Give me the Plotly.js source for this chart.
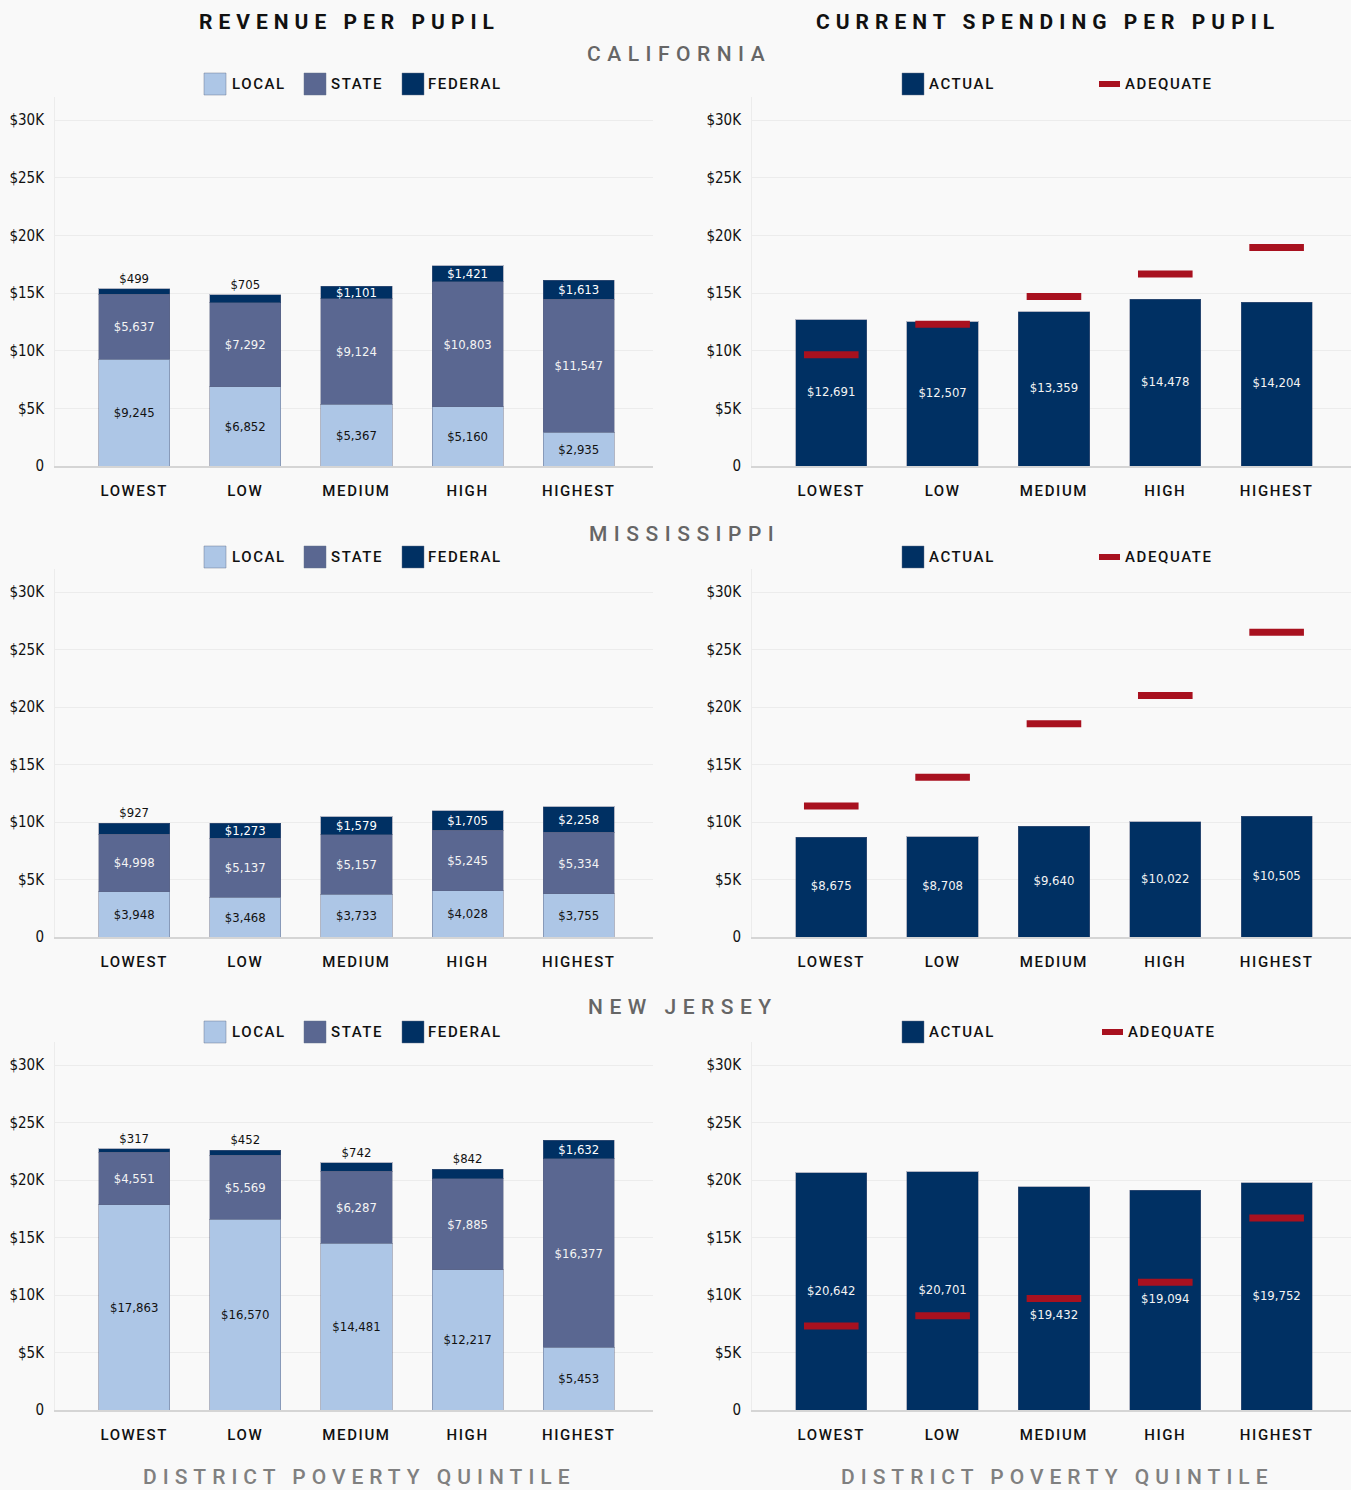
<!DOCTYPE html>
<html><head><meta charset="utf-8">
<script src="https://cdn.plot.ly/plotly-3.0.1.min.js"></script>
<style>
html,body{margin:0;padding:0;background:#f9f9f9;}
#chart{width:1351px;height:1490px;}
.xaxislayer-above text{letter-spacing:1.6px;}
</style></head><body><div id="chart"></div>
<script>
// ---------- DATA ----------
const categories = ['LOWEST', 'LOW', 'MEDIUM', 'HIGH', 'HIGHEST'];
const stateNames = ['CALIFORNIA', 'MISSISSIPPI', 'NEW JERSEY'];

const caLocal   = [9245, 6852, 5367, 5160, 2935];
const caState   = [5637, 7292, 9124, 10803, 11547];
const caFederal = [499, 705, 1101, 1421, 1613];
const caActual  = [12691, 12507, 13359, 14478, 14204];
const caAdequate = [9650, 12300, 14700, 16650, 18950];

const msLocal   = [3948, 3468, 3733, 4028, 3755];
const msState   = [4998, 5137, 5157, 5245, 5334];
const msFederal = [927, 1273, 1579, 1705, 2258];
const msActual  = [8675, 8708, 9640, 10022, 10505];
const msAdequate = [11400, 13900, 18550, 21000, 26500];

const njLocal   = [17863, 16570, 14481, 12217, 5453];
const njState   = [4551, 5569, 6287, 7885, 16377];
const njFederal = [317, 452, 742, 842, 1632];
const njActual  = [20642, 20701, 19432, 19094, 19752];
const njAdequate = [7300, 8200, 9700, 11100, 16700];

const yTickVals = [0, 5000, 10000, 15000, 20000, 25000, 30000];
const yTickText = ['0', '$5K', '$10K', '$15K', '$20K', '$25K', '$30K'];

const revenueSeries = [
  {local: caLocal, state: caState, federal: caFederal},
  {local: msLocal, state: msState, federal: msFederal},
  {local: njLocal, state: njState, federal: njFederal}
];
const spendingSeries = [
  {actual: caActual, adequate: caAdequate},
  {actual: msActual, adequate: msAdequate},
  {actual: njActual, adequate: njAdequate}
];

// ---------- STYLE / LAYOUT ----------
const W = 1351, H = 1490;
const px = x => x / W;
const py = y => 1 - y / H;
const NUMFONT = '"DejaVu Sans Condensed", "Roboto Condensed", Roboto, sans-serif';
const FONT = 'Roboto, "Noto Sans", sans-serif';
const C_LOCAL = '#adc6e6', C_STATE = '#5a6791', C_FED = '#003063', C_ADEQ = '#a8111f';

// pixel geometry of each row: plot top, zero-line, legend center, state name pos
const rowGeom = [
  {top: 97,  bottom: 466,  legendY: 84,   nameX: 679, nameY: 54,   adeqX: 1099},
  {top: 569, bottom: 937,  legendY: 557,  nameX: 685, nameY: 534,  adeqX: 1099},
  {top: 1042, bottom: 1410, legendY: 1032, nameX: 683, nameY: 1007, adeqX: 1102}
];
const leftDom = [px(55), px(653)];
const rightDom = [px(752), 1];
const XRANGE = [-0.712, 4.668];

const fmt = v => '$' + v.toLocaleString('en-US');
const edge = {color: 'rgba(90,100,130,0.45)', width: 1};

const traces = [];
const layout = {
  width: W, height: H,
  margin: {l: 0, r: 0, t: 0, b: 0},
  paper_bgcolor: '#f9f9f9', plot_bgcolor: '#f9f9f9',
  barmode: 'stack', bargap: 0.36,
  showlegend: false,
  font: {family: FONT, color: '#111'},
  annotations: [], shapes: []
};

function axisPair(n, xdom, ydom) {
  const s = n === 1 ? '' : String(n);
  layout['xaxis' + s] = {
    domain: xdom, anchor: 'y' + s, type: 'category',
    range: XRANGE, showgrid: false, zeroline: false,
    showline: true, linecolor: '#d5d5d5', linewidth: 2,
    ticks: '', ticklabelstandoff: 10,
    tickfont: {family: FONT, size: 15, color: '#111', weight: 500},
    fixedrange: true
  };
  layout['yaxis' + s] = {
    domain: ydom, anchor: 'x' + s, range: [0, 32000],
    tickvals: yTickVals, ticktext: yTickText,
    showgrid: true, gridcolor: '#ececec', gridwidth: 1,
    zeroline: false, showline: true, linecolor: '#ececec', linewidth: 1,
    ticks: '', ticklabelstandoff: 7,
    tickfont: {family: NUMFONT, size: 15, color: '#111', weight: 500},
    fixedrange: true
  };
  return {xa: 'x' + s, ya: 'y' + s};
}

rowGeom.forEach((g, r) => {
  const ydom = [py(g.bottom), py(g.top)];
  const L = axisPair(2 * r + 1, leftDom, ydom);
  const R = axisPair(2 * r + 2, rightDom, ydom);
  const rev = revenueSeries[r], sp = spendingSeries[r];

  traces.push({
    type: 'bar', x: categories, y: rev.local, xaxis: L.xa, yaxis: L.ya,
    marker: {color: C_LOCAL, line: edge},
    text: rev.local.map(fmt), textposition: 'inside', insidetextanchor: 'middle',
    textangle: 0, constraintext: 'none',
    textfont: {family: NUMFONT, size: 13, color: '#111'}, hoverinfo: 'skip'
  });
  traces.push({
    type: 'bar', x: categories, y: rev.state, xaxis: L.xa, yaxis: L.ya,
    marker: {color: C_STATE, line: edge},
    text: rev.state.map(fmt), textposition: 'inside', insidetextanchor: 'middle',
    textangle: 0, constraintext: 'none',
    textfont: {family: NUMFONT, size: 13, color: '#f4f4f4'}, hoverinfo: 'skip'
  });
  traces.push({
    type: 'bar', x: categories, y: rev.federal, xaxis: L.xa, yaxis: L.ya,
    marker: {color: C_FED, line: edge},
    text: rev.federal.map(fmt),
    textposition: rev.federal.map(v => v < 1000 ? 'outside' : 'inside'),
    insidetextanchor: 'middle', textangle: 0, constraintext: 'none', cliponaxis: false,
    insidetextfont: {family: NUMFONT, size: 13, color: '#ffffff'},
    outsidetextfont: {family: NUMFONT, size: 13, color: '#111'}, hoverinfo: 'skip'
  });
  traces.push({
    type: 'bar', x: categories, y: sp.actual, xaxis: R.xa, yaxis: R.ya,
    marker: {color: C_FED, line: edge}, hoverinfo: 'skip'
  });
  traces.push({
    type: 'scatter', mode: 'markers', x: categories, y: sp.adequate, xaxis: R.xa, yaxis: R.ya,
    marker: {symbol: 'line-ew', size: 39, color: C_ADEQ, line: {color: C_ADEQ, width: 7}},
    cliponaxis: false, hoverinfo: 'skip'
  });
  // value labels for actual bars: bar middle, moved below the adequate marker if they would collide
  const labelY = sp.actual.map((v, i) => {
    const mid = v / 2, a = sp.adequate[i];
    return Math.abs(mid - a) < 1200 ? a - 1500 : mid;
  });
  traces.push({
    type: 'scatter', mode: 'text', x: categories, y: labelY, xaxis: R.xa, yaxis: R.ya,
    text: sp.actual.map(fmt), textposition: 'middle center',
    textfont: {family: NUMFONT, size: 13, color: '#f4f4f4'}, hoverinfo: 'skip'
  });

  // state name
  layout.annotations.push({
    xref: 'paper', yref: 'paper', x: px(g.nameX), y: py(g.nameY),
    xanchor: 'center', yanchor: 'middle', showarrow: false,
    text: '<span style="letter-spacing:6.5px">' + stateNames[r] + '</span>',
    font: {family: FONT, size: 21, color: '#666', weight: 500}
  });

  // custom legends
  const ly = g.legendY;
  const sw = (x0, x1, y0, y1, c) => layout.shapes.push({
    type: 'rect', xref: 'paper', yref: 'paper', x0: px(x0), x1: px(x1), y0: py(y1), y1: py(y0),
    fillcolor: c, line: {color: 'rgba(100,110,140,0.45)', width: 1}
  });
  const lab = (x, t) => layout.annotations.push({
    xref: 'paper', yref: 'paper', x: px(x), y: py(ly), xanchor: 'left', yanchor: 'middle',
    showarrow: false, text: '<span style="letter-spacing:1.6px">' + t + '</span>',
    font: {family: FONT, size: 15, color: '#111', weight: 500}
  });
  sw(204, 226, ly - 11, ly + 11, C_LOCAL); lab(230, 'LOCAL');
  sw(304, 326, ly - 11, ly + 11, C_STATE); lab(329, 'STATE');
  sw(402, 424, ly - 11, ly + 11, C_FED); lab(426, 'FEDERAL');
  sw(902, 924, ly - 11, ly + 11, C_FED); lab(927, 'ACTUAL');
  layout.shapes.push({
    type: 'rect', xref: 'paper', yref: 'paper', x0: px(g.adeqX), x1: px(g.adeqX + 21),
    y0: py(ly + 3), y1: py(ly - 3), fillcolor: C_ADEQ, line: {width: 0}
  });
  lab(g.adeqX + 24, 'ADEQUATE');
});

// column titles
[['REVENUE PER PUPIL', 350], ['CURRENT SPENDING PER PUPIL', 1048]].forEach(([t, x]) => {
  layout.annotations.push({
    xref: 'paper', yref: 'paper', x: px(x), y: py(22), xanchor: 'center', yanchor: 'middle',
    showarrow: false, text: '<span style="letter-spacing:6px">' + t + '</span>',
    font: {family: FONT, size: 21, color: '#111', weight: 700}
  });
});
[359, 1057].forEach(x => {
  layout.annotations.push({
    xref: 'paper', yref: 'paper', x: px(x), y: py(1477), xanchor: 'center', yanchor: 'middle',
    showarrow: false, text: '<span style="letter-spacing:6px">DISTRICT POVERTY QUINTILE</span>',
    font: {family: FONT, size: 21, color: '#808080', weight: 500}
  });
});

Plotly.newPlot('chart', traces, layout, {staticPlot: true, displayModeBar: false});
</script></body></html>
